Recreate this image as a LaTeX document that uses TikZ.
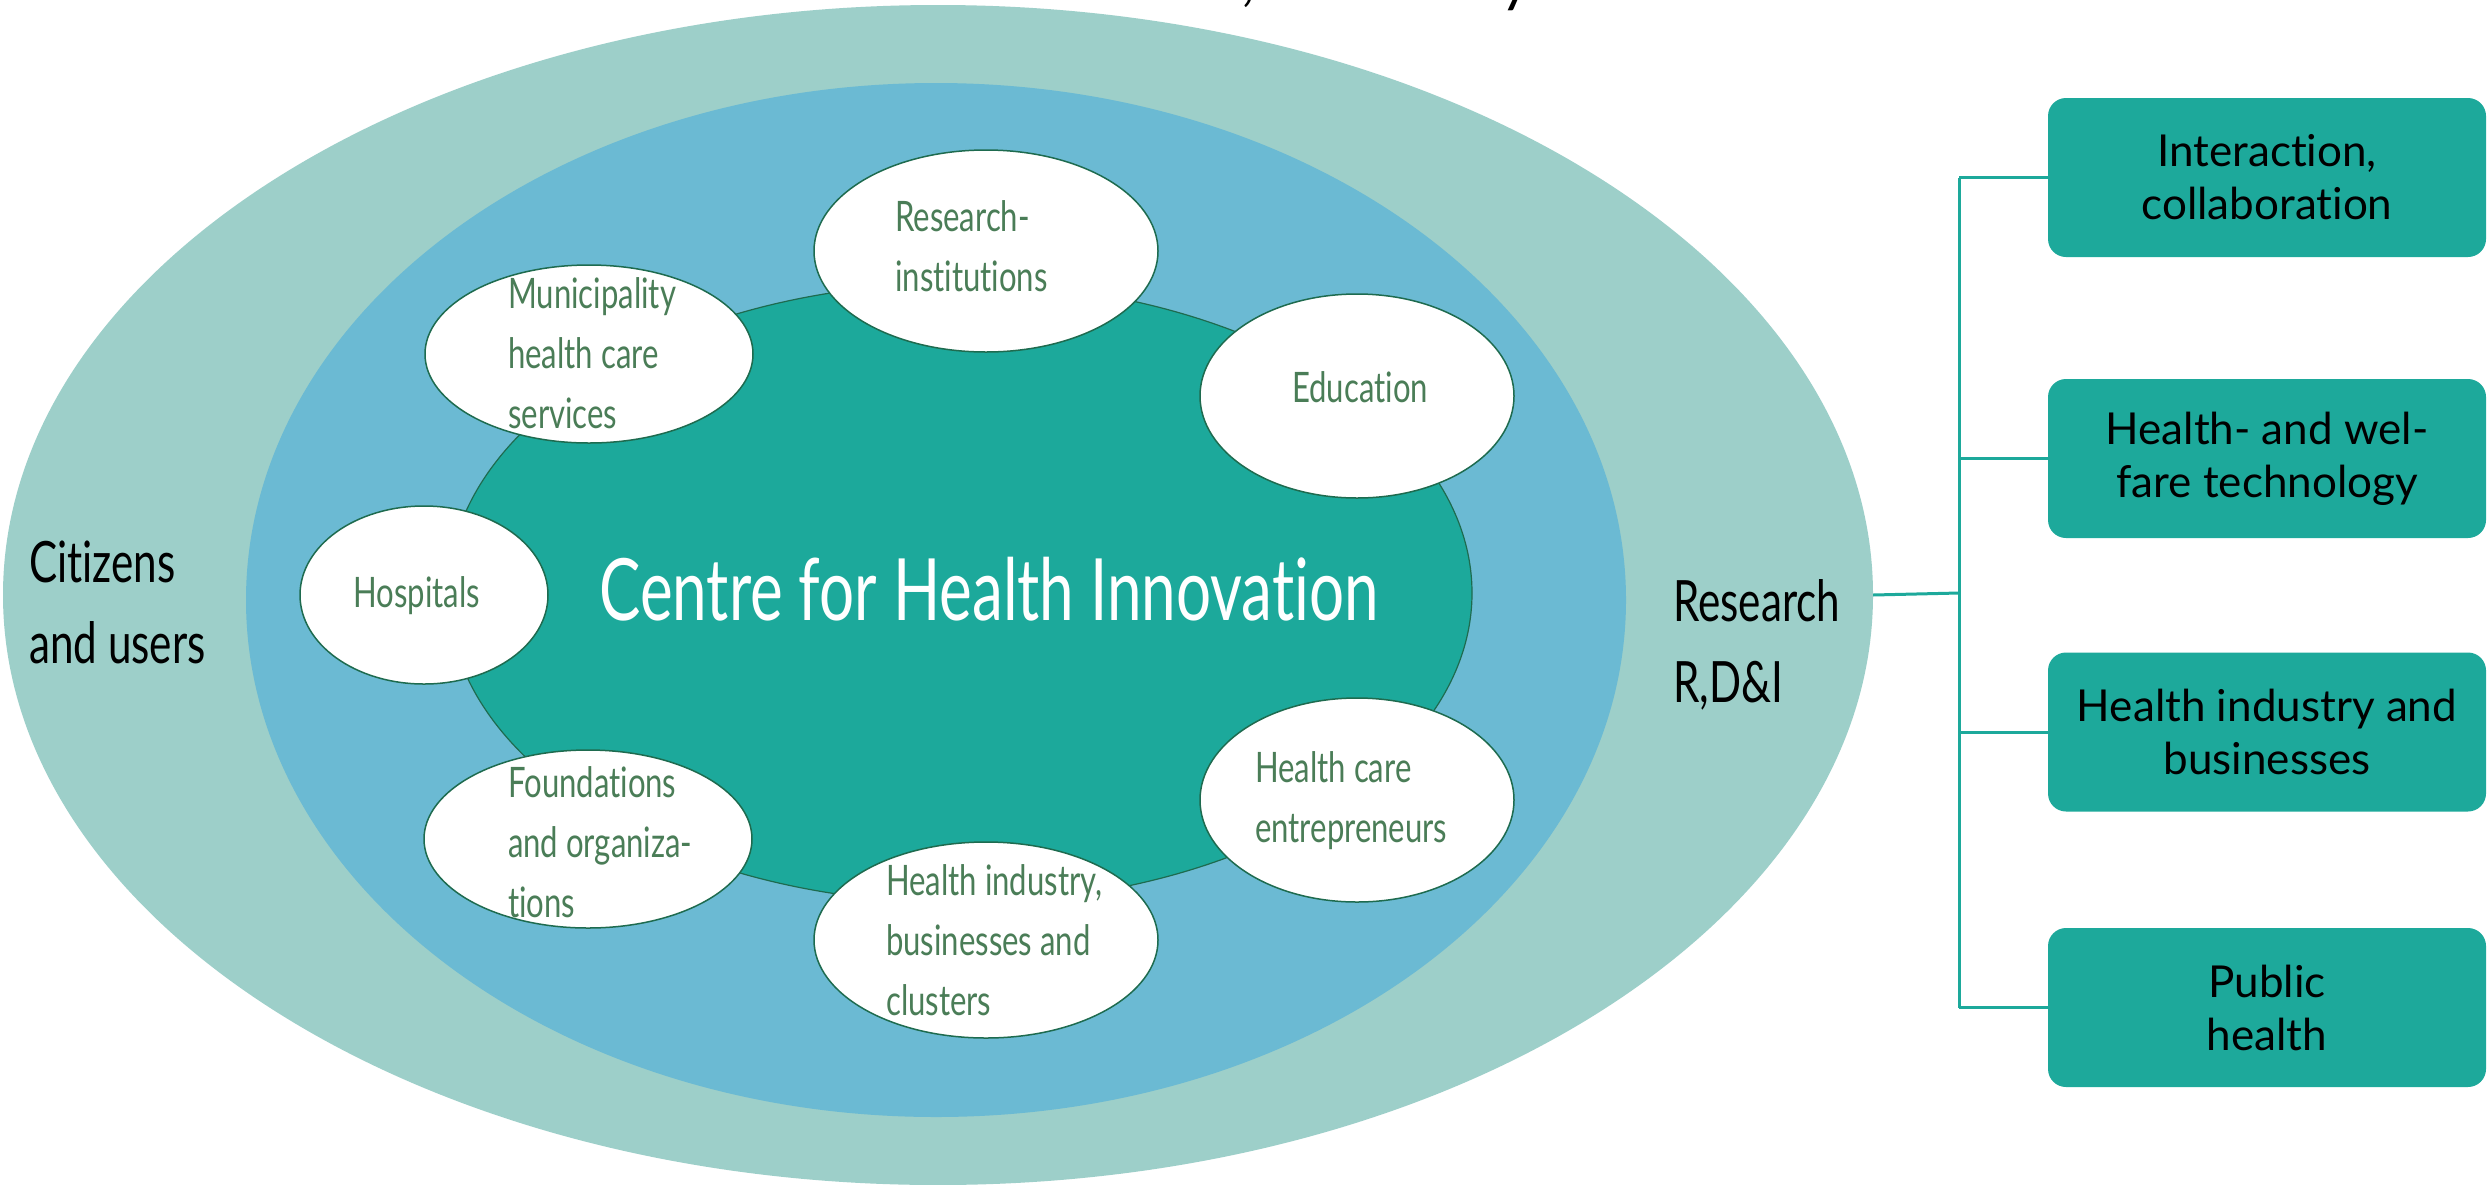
\documentclass[tikz,border=0pt]{standalone}
\usepackage{fontspec}
\setmainfont{Lato}[Ligatures=NoCommon]
\newfontfamily\condfont[FakeStretch=0.74,Ligatures=NoCommon]{Lato}
\newfontfamily\ccondfont[FakeStretch=0.72,Ligatures=NoCommon]{Lato}
\usetikzlibrary{shapes.geometric}
\definecolor{outerc}{HTML}{9DCFC9}
\definecolor{midc}{HTML}{6BBAD3}
\definecolor{innerc}{HTML}{1CA99B}
\definecolor{rimc}{HTML}{1E6B4F}
\definecolor{labc}{HTML}{4A7D57}
\definecolor{boxc}{HTML}{1DA99B}
\begin{document}
\begin{tikzpicture}[x=1pt,y=-1pt,
  blob/.style={ellipse, draw=rimc, line width=1.5pt, fill=white, inner sep=0pt},
  lab/.style={anchor=north west, inner sep=0pt, align=left, text=labc,
    font=\condfont\fontsize{42}{60}\selectfont},
  big/.style={anchor=north west, inner sep=0pt, align=left, text=black,
    font=\condfont\fontsize{57}{81}\selectfont},
  box/.style={rectangle, rounded corners=18pt, fill=boxc, inner sep=0pt,
    minimum width=438pt, minimum height=159pt, align=center, text=black,
    font=\fontsize{44}{53}\selectfont},
  conn/.style={draw=boxc, line width=3pt}]
\useasboundingbox (0,0) rectangle (2489,1184);
\fill[white] (0,0) rectangle (2489,1184);
% title fragments (cut off at the top)
\node[anchor=base, inner sep=0pt, font=\fontsize{60}{60}\selectfont] (tcomma) at (1248,-1) {,};
\node[anchor=base, inner sep=0pt, font=\fontsize{60}{60}\selectfont] (ty) at (1516,0) {y};
% rings
\node[ellipse, fill=outerc, inner sep=0pt, minimum width=1870pt, minimum height=1180pt] (outer) at (938,595) {};
\node[ellipse, fill=midc, inner sep=0pt, minimum width=1380pt, minimum height=1034pt] (mid) at (936,600) {};
\node[ellipse, fill=innerc, draw=rimc, line width=1.2pt, inner sep=0pt, minimum width=1024pt, minimum height=620pt] (inner) at (960,593) {};
\node[anchor=base, inner sep=0pt, text=white, font=\ccondfont\fontsize{86}{86}\selectfont] (chi) at (989,620) {Centre for Health Innovation};
% partner ellipses
\node[blob, minimum width=344pt, minimum height=202pt] (res) at (986,251) {};
\node[blob, minimum width=314pt, minimum height=204pt] (edu) at (1357,396) {};
\node[blob, minimum width=328pt, minimum height=178pt] (mun) at (589,354) {};
\node[blob, minimum width=248pt, minimum height=178pt] (hos) at (424,595) {};
\node[blob, minimum width=328pt, minimum height=178pt] (fou) at (588,839) {};
\node[blob, minimum width=344pt, minimum height=196pt] (hin) at (986,940) {};
\node[blob, minimum width=314pt, minimum height=204pt] (hce) at (1357,800) {};
\node[lab] (res-t) at (895,200) {Research-\\institutions};
\node[lab] (edu-t) at (1292,371) {Education};
\node[lab] (mun-t) at (508,277) {Municipality\\health care\\services};
\node[lab] (hos-t) at (353,576) {Hospitals};
\node[lab] (fou-t) at (508,766) {Foundations\\and organiza-\\tions};
\node[lab] (hin-t) at (886,864) {Health industry,\\businesses and\\clusters};
\node[lab] (hce-t) at (1255,751) {Health care\\entrepreneurs};
% ring labels
\node[big] (cit) at (29,541) {Citizens\\and users};
\node[big] (rdi) at (1673,579) {Research\\R,D\&I};
% boxes
\node[box] (b1) at (2267,177.5) {Interaction,\\collaboration};
\node[box] (b2) at (2267,458.5) {Health- and wel-\\fare technology};
\node[box] (b3) at (2267,732) {Health industry and\\businesses};
\node[box] (b4) at (2267,1007.5) {Public\\health};
% connectors
\coordinate (bus) at (1959,593);
\draw[conn] (outer.east) -- (bus);
\draw[conn] (bus |- b1.west) -- (bus |- b4.west);
\foreach \b in {b1,b2,b3,b4} \draw[conn] (bus |- \b.west) -- (\b.west);
\end{tikzpicture}
\end{document}
